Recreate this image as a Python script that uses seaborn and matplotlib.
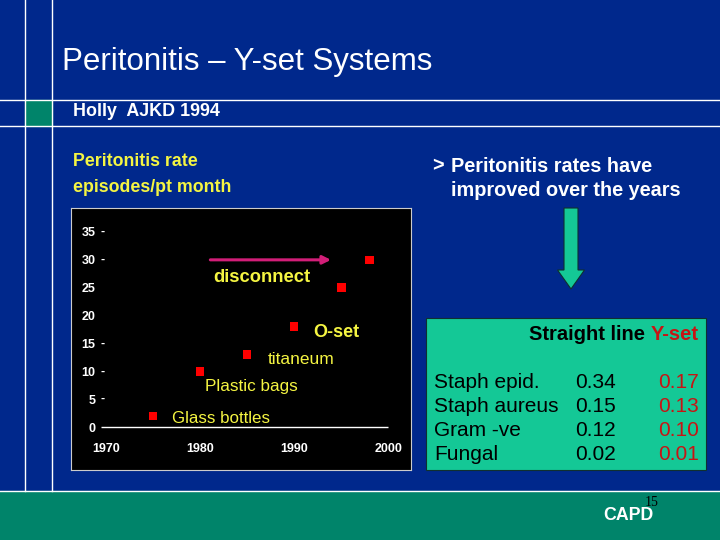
import numpy as np
import pandas as pd
import matplotlib
matplotlib.use('Agg')
import matplotlib.pyplot as plt
import matplotlib.patches as mpatches
import seaborn as sns

# data
years = [1975, 1980, 1985, 1990, 1995, 1998]
rates = [2, 10, 13, 18, 25, 30]
x_ticks = [1970, 1980, 1990, 2000]
y_ticks = [0, 5, 10, 15, 20, 25, 30, 35]
y_dash = [35, 30, 15, 10, 5]

organisms = ['Staph epid.', 'Staph aureus', 'Gram -ve', 'Fungal']
straight_line = ['0.34', '0.15', '0.12', '0.02']
y_set = ['0.17', '0.13', '0.10', '0.01']

navy = '#00288C'
dark_green = '#00846A'
box_green = '#14C896'
yellow = '#F5F542'
red_box = '#C81414'

plt.rcParams['font.family'] = ['Liberation Sans', 'DejaVu Sans']

fig = plt.figure(figsize=(7.2, 5.4), dpi=100)
fig.patch.set_facecolor(navy)

# slide background, pixel coords
bg = fig.add_axes([0, 0, 1, 1])
bg.set_xlim(0, 720)
bg.set_ylim(540, 0)
bg.axis('off')
bg.add_patch(mpatches.Rectangle((0, 491), 720, 49, color=dark_green))
bg.add_patch(mpatches.Rectangle((25, 100), 27, 26, color=dark_green))
bg.plot([0, 720], [491, 491], color='white', lw=1)
bg.plot([0, 720], [100, 100], color='white', lw=1)
bg.plot([0, 720], [126, 126], color='white', lw=1)
bg.plot([25, 25], [0, 491], color='white', lw=1)
bg.plot([52, 52], [0, 491], color='white', lw=1)

bg.text(62, 62, 'Peritonitis \u2013 Y-set Systems', color='white', fontsize=22.5,
        va='center', ha='left')
bg.text(73, 112, 'Holly  AJKD 1994', color='white', fontsize=12.9,
        fontweight='bold', va='center')
bg.text(73, 161, 'Peritonitis rate', color=yellow, fontsize=12.8,
        fontweight='bold', va='center')
bg.text(73, 187, 'episodes/pt month', color=yellow, fontsize=12.8,
        fontweight='bold', va='center')
bg.text(432, 166, '>', color='white', fontsize=14.3, fontweight='bold', va='center')
bg.text(451, 166, 'Peritonitis rates have', color='white', fontsize=14.3,
        fontweight='bold', va='center')
bg.text(451, 190, 'improved over the years', color='white', fontsize=14.3,
        fontweight='bold', va='center')

# green down arrow
bg.add_patch(mpatches.FancyArrow(571, 208, 0, 81, width=14, head_width=27,
                                 head_length=19, length_includes_head=True,
                                 facecolor=box_green, edgecolor='#103030', lw=0.8))

# text box on the right
bg.add_patch(mpatches.Rectangle((426, 318), 280, 152, facecolor=box_green,
                                edgecolor='#103030', lw=0.8))
bg.text(651, 334, 'Straight line ', color='black', fontsize=14.5, fontweight='bold',
        va='center', ha='right')
bg.text(651, 334, 'Y-set', color=red_box, fontsize=14.5, fontweight='bold',
        va='center', ha='left')
for i, org in enumerate(organisms):
    yy = 382 + 24 * i
    bg.text(434, yy, org, color='black', fontsize=15, va='center')
    bg.text(616, yy, straight_line[i], color='black', fontsize=15,
            va='center', ha='right')
    bg.text(699, yy, y_set[i], color=red_box, fontsize=15,
            va='center', ha='right')

bg.text(652, 502, '15', color='black', fontsize=10, family='Liberation Serif',
        va='center', ha='center')
bg.text(628, 516, 'CAPD', color='white', fontsize=12.8, fontweight='bold',
        va='center', ha='center')

# chart
ax = fig.add_axes([71 / 720, 70 / 540, 340 / 720, 262 / 540])
ax.set_facecolor('black')
df = pd.DataFrame({'year': years, 'rate': rates})
sns.scatterplot(data=df, x='year', y='rate', marker='s', color='#FF0000',
                s=38, edgecolor='none', ax=ax, zorder=3)
ax.set_xlim(1966.3, 2002.4)
ax.set_ylim(-7.7, 39.3)
ax.hlines(0, 1969.5, 2000, color='white', lw=1)
for sp in ax.spines.values():
    sp.set_color('#cccccc')
    sp.set_linewidth(0.8)

ax.set_xticks(x_ticks)
ax.set_xticklabels([str(t) for t in x_ticks], color='white', fontsize=9,
                   fontweight='bold')
ax.set_yticks(y_ticks)
ax.set_yticklabels([str(t) for t in y_ticks], color='white', fontsize=9,
                   fontweight='bold')
ax.tick_params(axis='x', length=0, pad=-19.5)
ax.tick_params(axis='y', length=0, pad=-17.5)
ax.set_xlabel('')
ax.set_ylabel('')
for t in y_dash:
    ax.text(1969.6, t, '-', color='white', fontsize=9, fontweight='bold',
            va='center', ha='center')

ax.text(1977.05, 1.6, 'Glass bottles', color=yellow, fontsize=12.2, va='center')
ax.text(1980.55, 7.35, 'Plastic bags', color=yellow, fontsize=12.3, va='center')
ax.text(1987.2, 12.2, 'titaneum', color=yellow, fontsize=12.5, va='center')
ax.text(1992.0, 17.0, 'O-set', color=yellow, fontsize=13, fontweight='bold',
        va='center')
ax.text(1986.6, 26.9, 'disconnect', color=yellow, fontsize=13.2,
        fontweight='bold', va='center', ha='center')
ax.annotate('', xy=(1994.2, 30), xytext=(1980.8, 30),
            arrowprops=dict(arrowstyle='-|>', color='#D21E78', lw=2.2,
                            mutation_scale=12))

fig.savefig('out.png', dpi=100, facecolor=fig.get_facecolor())
